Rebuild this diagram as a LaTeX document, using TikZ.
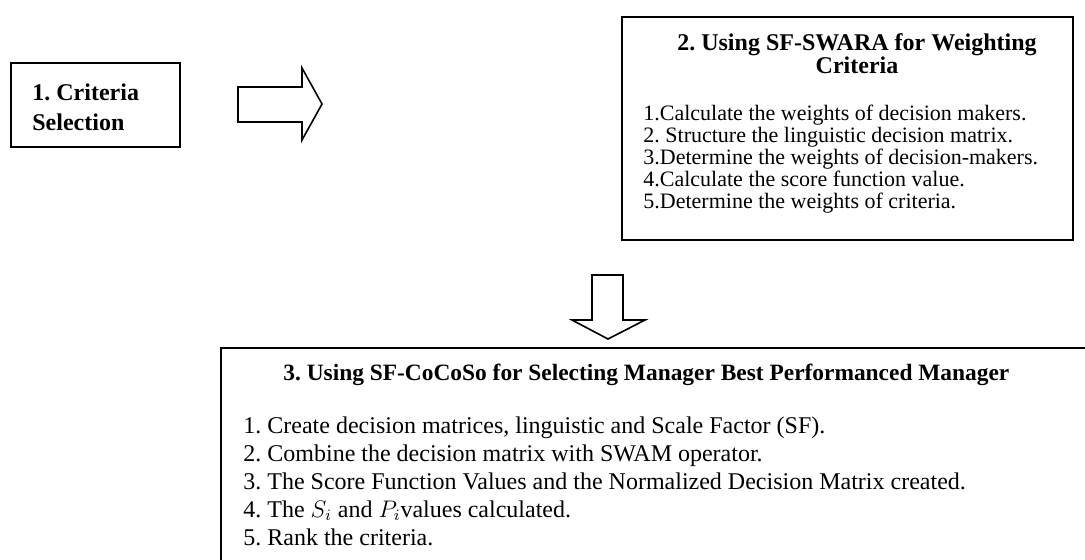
\documentclass[tikz,border=0pt]{standalone}
\usepackage{fontspec}
\setmainfont{Liberation Serif}
\usepackage{tikz}
\usetikzlibrary{positioning}
\frenchspacing
\tikzset{
  boxframe/.style = {draw, line width=0.9pt, inner sep=0pt},
  headtext/.style = {font=\bfseries, inner sep=0pt},
  itemtext/.style = {inner sep=0pt, align=left, anchor=north west},
  blockarrow/.style = {draw, line width=0.8pt, line join=miter, fill=white}
}

\begin{document}
\begin{tikzpicture}[x=0.5pt, y=-0.5pt]
\useasboundingbox (0,0) rectangle (1085,559);
\clip (0,0) rectangle (1085,559);
% boxes
\node [boxframe, minimum width=84.5pt, minimum height=42pt] (crit) at (95.5,105) {};
\node [boxframe, minimum width=225.5pt, minimum height=111.5pt] (weight) at (847.5,128.5) {};
\node [boxframe, minimum width=437pt, minimum height=111pt] (rank) at (658,459) {};
% texts
\node [headtext, align=left, anchor=north west, font=\bfseries\fontsize{12}{15}\selectfont] (critT) at (32,83)
	{1. Criteria\\Selection};
\node [headtext, align=center, anchor=north, font=\bfseries\fontsize{12}{11.5}\selectfont] (weightT) at (857,33)
	{2. Using SF-SWARA for Weighting\\Criteria};
\node [itemtext, font=\fontsize{11}{10.9}\selectfont] (weightL) at (643,105)
	{1.Calculate the weights of decision makers.\\
	 2. Structure the linguistic decision matrix.\\
	 3.Determine the weights of decision-makers.\\
	 4.Calculate the score function value.\\
	 5.Determine the weights of criteria.};
\node [headtext, anchor=west, font=\bfseries\fontsize{11.7}{13}\selectfont] (rankT) at (283,375)
	{3. Using SF-CoCoSo for Selecting Manager Best Performanced Manager};
\node [itemtext, font=\fontsize{12}{14}\selectfont] (rankL) at (243,416)
	{1. Create decision matrices, linguistic and Scale Factor (SF).\\
	 2. Combine the decision matrix with SWAM operator.\\
	 3. The Score Function Values and the Normalized Decision Matrix created.\\
	 4. The $S_i$ and $P_i$values calculated.\\
	 5. Rank the criteria.};
% block arrows
\draw [blockarrow] (238,87) -- (302,87) -- (302,68) -- (322,104) -- (302,140) -- (302,122) -- (238,122) -- cycle;
\draw [blockarrow] (592,275) -- (623,275) -- (623,320) -- (645,320) -- (608,339) -- (572,320) -- (592,320) -- cycle;
\end{tikzpicture}
\end{document}
